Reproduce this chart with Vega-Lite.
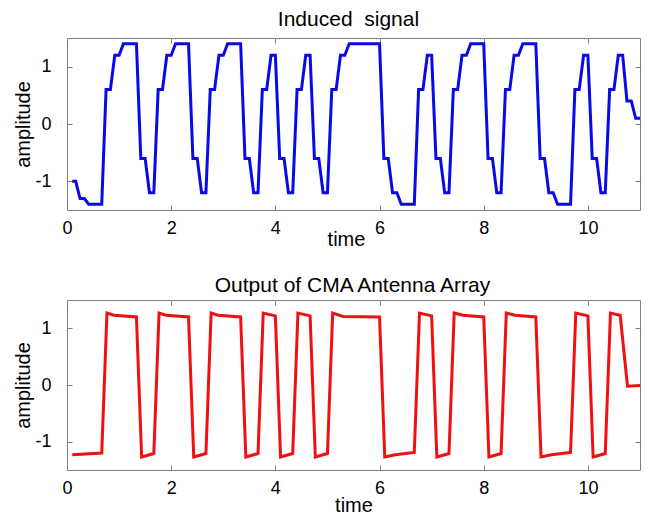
{
  "$schema": "https://vega.github.io/schema/vega-lite/v6.json",
  "background": "white",
  "padding": {"left": 12, "top": 8, "right": 5, "bottom": 5},
  "spacing": 90,
  "bounds": "flush",
  "datasets": {
    "induced": [{"t":0.1,"v":-1.0},{"t":0.167,"v":-1.0},{"t":0.25,"v":-1.3},{"t":0.333,"v":-1.3},{"t":0.417,"v":-1.4},{"t":0.667,"v":-1.4},{"t":0.75,"v":0.6},{"t":0.833,"v":0.6},{"t":0.917,"v":1.2},{"t":1.0,"v":1.2},{"t":1.083,"v":1.4},{"t":1.333,"v":1.4},{"t":1.417,"v":-0.6},{"t":1.5,"v":-0.6},{"t":1.583,"v":-1.2},{"t":1.667,"v":-1.2},{"t":1.75,"v":0.6},{"t":1.833,"v":0.6},{"t":1.917,"v":1.2},{"t":2.0,"v":1.2},{"t":2.083,"v":1.4},{"t":2.333,"v":1.4},{"t":2.417,"v":-0.6},{"t":2.5,"v":-0.6},{"t":2.583,"v":-1.2},{"t":2.667,"v":-1.2},{"t":2.75,"v":0.6},{"t":2.833,"v":0.6},{"t":2.917,"v":1.2},{"t":3.0,"v":1.2},{"t":3.083,"v":1.4},{"t":3.333,"v":1.4},{"t":3.417,"v":-0.6},{"t":3.5,"v":-0.6},{"t":3.583,"v":-1.2},{"t":3.667,"v":-1.2},{"t":3.75,"v":0.6},{"t":3.833,"v":0.6},{"t":3.917,"v":1.2},{"t":4.0,"v":1.2},{"t":4.083,"v":-0.6},{"t":4.167,"v":-0.6},{"t":4.25,"v":-1.2},{"t":4.333,"v":-1.2},{"t":4.417,"v":0.6},{"t":4.5,"v":0.6},{"t":4.583,"v":1.2},{"t":4.667,"v":1.2},{"t":4.75,"v":-0.6},{"t":4.833,"v":-0.6},{"t":4.917,"v":-1.2},{"t":5.0,"v":-1.2},{"t":5.083,"v":0.6},{"t":5.167,"v":0.6},{"t":5.25,"v":1.2},{"t":5.333,"v":1.2},{"t":5.417,"v":1.4},{"t":6.0,"v":1.4},{"t":6.083,"v":-0.6},{"t":6.167,"v":-0.6},{"t":6.25,"v":-1.2},{"t":6.333,"v":-1.2},{"t":6.417,"v":-1.4},{"t":6.667,"v":-1.4},{"t":6.75,"v":0.6},{"t":6.833,"v":0.6},{"t":6.917,"v":1.2},{"t":7.0,"v":1.2},{"t":7.083,"v":-0.6},{"t":7.167,"v":-0.6},{"t":7.25,"v":-1.2},{"t":7.333,"v":-1.2},{"t":7.417,"v":0.6},{"t":7.5,"v":0.6},{"t":7.583,"v":1.2},{"t":7.667,"v":1.2},{"t":7.75,"v":1.4},{"t":8.0,"v":1.4},{"t":8.083,"v":-0.6},{"t":8.167,"v":-0.6},{"t":8.25,"v":-1.2},{"t":8.333,"v":-1.2},{"t":8.417,"v":0.6},{"t":8.5,"v":0.6},{"t":8.583,"v":1.2},{"t":8.667,"v":1.2},{"t":8.75,"v":1.4},{"t":9.0,"v":1.4},{"t":9.083,"v":-0.6},{"t":9.167,"v":-0.6},{"t":9.25,"v":-1.2},{"t":9.333,"v":-1.2},{"t":9.417,"v":-1.4},{"t":9.667,"v":-1.4},{"t":9.75,"v":0.6},{"t":9.833,"v":0.6},{"t":9.917,"v":1.2},{"t":10.0,"v":1.2},{"t":10.083,"v":-0.6},{"t":10.167,"v":-0.6},{"t":10.25,"v":-1.2},{"t":10.333,"v":-1.2},{"t":10.417,"v":0.6},{"t":10.5,"v":0.6},{"t":10.583,"v":1.2},{"t":10.667,"v":1.2},{"t":10.75,"v":0.4},{"t":10.833,"v":0.4},{"t":10.917,"v":0.1},{"t":11.0,"v":0.1}],
    "output": [{"t":0.1,"v":-1.23},{"t":0.667,"v":-1.2},{"t":0.767,"v":1.27},{"t":0.9,"v":1.23},{"t":1.333,"v":1.2},{"t":1.433,"v":-1.27},{"t":1.667,"v":-1.21},{"t":1.767,"v":1.27},{"t":1.9,"v":1.23},{"t":2.333,"v":1.2},{"t":2.433,"v":-1.27},{"t":2.667,"v":-1.21},{"t":2.767,"v":1.27},{"t":2.9,"v":1.23},{"t":3.333,"v":1.2},{"t":3.433,"v":-1.27},{"t":3.667,"v":-1.21},{"t":3.767,"v":1.27},{"t":4.0,"v":1.22},{"t":4.1,"v":-1.27},{"t":4.333,"v":-1.21},{"t":4.433,"v":1.27},{"t":4.667,"v":1.22},{"t":4.767,"v":-1.27},{"t":5.0,"v":-1.21},{"t":5.1,"v":1.27},{"t":5.3,"v":1.21},{"t":6.0,"v":1.2},{"t":6.1,"v":-1.27},{"t":6.3,"v":-1.23},{"t":6.667,"v":-1.19},{"t":6.767,"v":1.27},{"t":7.0,"v":1.22},{"t":7.1,"v":-1.27},{"t":7.333,"v":-1.21},{"t":7.433,"v":1.27},{"t":7.6,"v":1.23},{"t":8.0,"v":1.2},{"t":8.1,"v":-1.27},{"t":8.333,"v":-1.21},{"t":8.433,"v":1.27},{"t":8.6,"v":1.23},{"t":9.0,"v":1.2},{"t":9.1,"v":-1.27},{"t":9.3,"v":-1.23},{"t":9.667,"v":-1.19},{"t":9.767,"v":1.27},{"t":10.0,"v":1.22},{"t":10.1,"v":-1.27},{"t":10.333,"v":-1.21},{"t":10.433,"v":1.27},{"t":10.62,"v":1.23},{"t":10.76,"v":-0.02},{"t":11.0,"v":-0.01}]
  },
  "vconcat": [
    {
      "width": 573,
      "height": 172,
      "title": {"text": "Induced\u00a0\u00a0signal", "offset": -9, "baseline": "alphabetic", "anchor": "middle", "dx": -5},
      "data": {"name": "induced"},
      "layer": [
        {
          "mark": {"type": "line", "color": "#0a0ae6", "strokeWidth": 3},
          "encoding": {
            "x": {"field": "t", "type": "quantitative", "scale": {"domain": [0, 11], "nice": false, "zero": false},
                  "axis": {"values": [0, 2, 4, 6, 8, 10], "title": "time", "labelFlush": false, "labelPadding": 14, "titleX": 279, "titleY": 35, "titleBaseline": "alphabetic", "titleAlign": "center",
                           "encode": {"labels": {"update": {"dy": {"signal": "datum.value === 6 ? -6 : 0"}}}}}},
            "y": {"field": "v", "type": "quantitative", "scale": {"domain": [-1.5, 1.5], "nice": false, "zero": false},
                  "axis": {"values": [-1, 0, 1], "title": "amplitude", "labelPadding": 21, "labelExpr": "datum.value + ''", "titleX": -38, "titleY": 86, "titleAngle": 270, "titleAlign": "center", "titleBaseline": "alphabetic"}}
          }
        },
        {
          "mark": {"type": "line", "opacity": 0},
          "encoding": {
            "x": {"field": "t", "type": "quantitative", "axis": {"orient": "top", "values": [0, 2, 4, 6, 8, 10], "labels": false, "title": null}},
            "y": {"field": "v", "type": "quantitative", "axis": {"orient": "right", "values": [-1, 0, 1], "labels": false, "title": null}}
          }
        }
      ],
      "resolve": {"axis": {"x": "independent", "y": "independent"}}
    },
    {
      "width": 573,
      "height": 170,
      "title": {"text": "Output of CMA Antenna Array", "offset": -13, "baseline": "alphabetic", "anchor": "middle", "dx": -1},
      "data": {"name": "output"},
      "layer": [
        {
          "mark": {"type": "line", "color": "#f01010", "strokeWidth": 3},
          "encoding": {
            "x": {"field": "t", "type": "quantitative", "scale": {"domain": [0, 11], "nice": false, "zero": false},
                  "axis": {"values": [0, 2, 4, 6, 8, 10], "title": "time", "labelFlush": false, "labelPadding": 14, "titleY": 41, "titleBaseline": "alphabetic", "titleAlign": "center"}},
            "y": {"field": "v", "type": "quantitative", "scale": {"domain": [-1.5, 1.5], "nice": false, "zero": false},
                  "axis": {"values": [-1, 0, 1], "title": "amplitude", "labelPadding": 21, "labelExpr": "datum.value + ''", "titleX": -38, "titleY": 85, "titleAngle": 270, "titleAlign": "center", "titleBaseline": "alphabetic"}}
          }
        },
        {
          "mark": {"type": "line", "opacity": 0},
          "encoding": {
            "x": {"field": "t", "type": "quantitative", "axis": {"orient": "top", "values": [0, 2, 4, 6, 8, 10], "labels": false, "title": null}},
            "y": {"field": "v", "type": "quantitative", "axis": {"orient": "right", "values": [-1, 0, 1], "labels": false, "title": null}}
          }
        }
      ],
      "resolve": {"axis": {"x": "independent", "y": "independent"}}
    }
  ],
  "config": {
    "view": {"stroke": "#7f7f7f", "strokeWidth": 1},
    "axis": {"grid": false, "domain": false, "tickColor": "#7f7f7f", "tickSize": -5, "labelFont": "Liberation Sans", "labelFontSize": 18, "labelColor": "#000000", "titleFont": "Liberation Sans", "titleFontSize": 20, "titleFontWeight": "normal", "titleColor": "#000000"},
    "title": {"font": "Liberation Sans", "fontSize": 21, "fontWeight": "normal", "color": "#000000"}
  }
}
